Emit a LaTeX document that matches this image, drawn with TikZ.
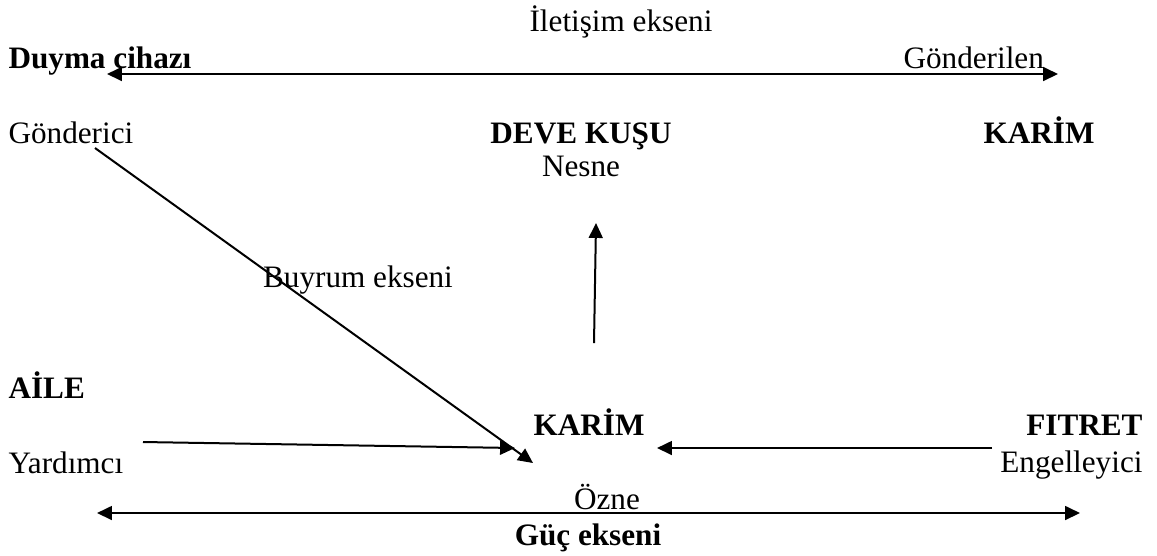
\documentclass[tikz,border=0pt]{standalone}
\usepackage{fontspec}
\setmainfont{Liberation Serif}
\usetikzlibrary{arrows.meta}
\begin{document}
\begin{tikzpicture}[x=0.375pt,y=-0.375pt,
  lbl/.style={inner sep=0pt,font=\fontsize{11.7}{14}\selectfont},
  blbl/.style={inner sep=0pt,font=\fontsize{11.7}{14}\selectfont\bfseries},
  tip/.tip={Triangle[length=5.6pt,width=5.2pt]},
  conn/.style={line width=0.75pt,-tip},
  axisline/.style={line width=0.75pt,tip-tip}]
\useasboundingbox (0,0) rectangle (1157,555);
% texts
\node[lbl,anchor=base] (ilet) at (621,31) {İletişim ekseni};
\node[blbl,anchor=base west] (duyma) at (8,68) {Duyma cihazı};
\node[lbl,anchor=base west] (gonderilen) at (903,68) {Gönderilen};
\node[lbl,anchor=base west] (gonderici) at (8,143) {Gönderici};
\node[blbl,anchor=base] (deve) at (581,143) {DEVE KUŞU};
\node[lbl,anchor=base] (nesne) at (581,176) {Nesne};
\node[blbl,anchor=base west] (karimtop) at (983,143) {KARİM};
\node[lbl,anchor=base] (buyrum) at (358,287) {Buyrum ekseni};
\node[blbl,anchor=base west] (aile) at (8,398) {AİLE};
\node[blbl,anchor=base west] (karim) at (533,435) {KARİM};
\node[lbl,anchor=base west] (yardimci) at (8,473) {Yardımcı};
\node[blbl,anchor=base east] (fitret) at (1143,435) {FITRET};
\node[lbl,anchor=base east] (engel) at (1143,472) {Engelleyici};
\node[lbl,anchor=base] (ozne) at (607,509) {Özne};
\node[blbl,anchor=base] (guc) at (588,545) {Güç ekseni};
% connector end points
\coordinate (topL) at (107,74);
\coordinate (topR) at (1058,74);
\coordinate (botL) at (97,513);
\coordinate (botR) at (1080,513);
\coordinate (gS) at (95,148);
\coordinate (gE) at (533,463);
\coordinate (vS) at (594,343);
\coordinate (vE) at (596,223);
\coordinate (yS) at (143,442);
\coordinate (yE) at (515,448);
\coordinate (fS) at (992,448);
\coordinate (fE) at (657,448);
% connectors
\draw[axisline] (topL) -- (topR);
\draw[axisline] (botL) -- (botR);
\draw[conn] (gS) -- (gE);
\draw[conn] (vS) -- (vE);
\draw[conn] (yS) -- (yE);
\draw[conn] (fS) -- (fE);
\end{tikzpicture}
\end{document}
